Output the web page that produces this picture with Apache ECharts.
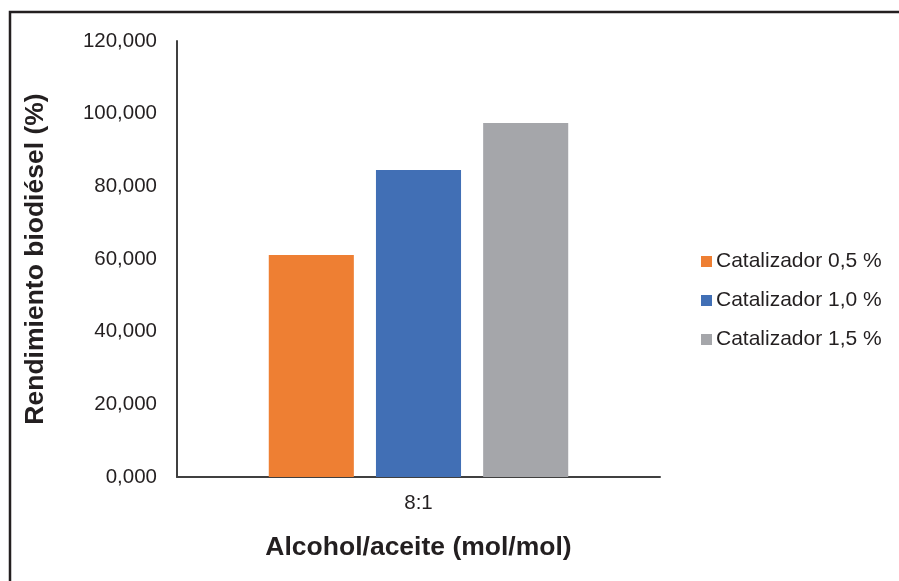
<!DOCTYPE html>
<html>
<head>
<meta charset="utf-8">
<style>
  html, body { margin: 0; padding: 0; background: #ffffff; }
  #chart { width: 899px; height: 581px; }
</style>
<script src="https://cdn.jsdelivr.net/npm/echarts@6/dist/echarts.min.js"></script>
</head>
<body>
<div id="chart"></div>
<script>
// Biodiesel yield by catalyst loading at an 8:1 alcohol/oil ratio
const categories = ['8:1'];
const seriesNames = ['Catalizador 0,5 %', 'Catalizador 1,0 %', 'Catalizador 1,5 %'];
const yield05 = [61.1];
const yield10 = [84.5];
const yield15 = [97.4];
const seriesColors = ['#EE7F33', '#416FB5', '#A5A6AA'];

const textColor = '#231F20';
const fontFamily = 'Liberation Sans, Arial, sans-serif';

const chart = echarts.init(document.getElementById('chart'), null, { renderer: 'canvas' });

const values = [yield05, yield10, yield15];

chart.setOption({
  animation: false,
  backgroundColor: '#ffffff',
  textStyle: { fontFamily: fontFamily, color: textColor },
  graphic: [{
    type: 'rect',
    left: 7.5, top: 9.5,
    shape: { width: 1000, height: 1000 },
    style: { fill: 'none', stroke: '#231F20', lineWidth: 2.5 },
    silent: true
  }],
  grid: { left: 177, right: 239, top: 41, bottom: 104, containLabel: false },
  legend: {
    orient: 'vertical',
    left: 701,
    top: 251,
    padding: 0,
    itemWidth: 11,
    itemHeight: 11,
    itemGap: 18,
    icon: 'rect',
    textStyle: { fontSize: 21, color: textColor, fontFamily: fontFamily, lineHeight: 21, padding: [0, 0, 0, -1] },
    data: seriesNames
  },
  xAxis: {
    type: 'category',
    data: categories,
    name: 'Alcohol/aceite (mol/mol)',
    nameLocation: 'middle',
    nameGap: 57,
    nameTextStyle: { fontSize: 26.5, fontWeight: 'bold', color: textColor, fontFamily: fontFamily },
    axisLine: { lineStyle: { color: '#404040', width: 2 } },
    axisTick: { show: false },
    axisLabel: { fontSize: 20.5, color: textColor, margin: 16 }
  },
  yAxis: {
    type: 'value',
    min: 0, max: 120, interval: 20,
    name: 'Rendimiento biodiésel (%)',
    nameLocation: 'middle',
    nameGap: 128,
    nameTextStyle: { fontSize: 26.5, fontWeight: 'bold', color: textColor, fontFamily: fontFamily },
    axisLine: { show: true, lineStyle: { color: '#404040', width: 2 } },
    axisTick: { show: false },
    splitLine: { show: false },
    axisLabel: {
      fontSize: 20.5, color: textColor, margin: 20,
      formatter: v => v.toFixed(3).replace('.', ',')
    }
  },
  series: seriesNames.map((name, i) => ({
    name: name,
    type: 'bar',
    data: values[i],
    barGap: '26%',
    barCategoryGap: '38%',
    itemStyle: { color: seriesColors[i] }
  }))
});
</script>
</body>
</html>
